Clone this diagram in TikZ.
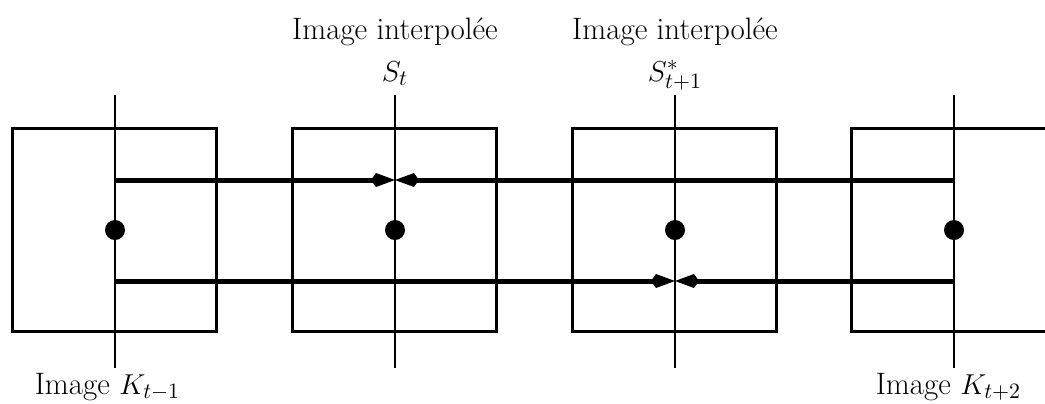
\documentclass[tikz,border=0pt]{standalone}
\usepackage{fontspec}
\newfontfamily\lmxvii{lmroman17-regular}[Extension=.otf]
\usetikzlibrary{arrows.meta}
\begin{document}
\begin{tikzpicture}[x=0.5pt,y=-0.5pt,
  frame/.style={draw,line width=1.5pt,minimum width=102pt,minimum height=101.5pt,inner sep=0pt},
  openframe/.style={line width=1.5pt},
  axis/.style={line width=0.7pt},
  dot/.style={circle,fill,inner sep=0pt,minimum size=10pt},
  flow/.style={line width=2.5pt,-{Kite[length=12pt,width=7pt,inset=2.5pt]}},
  lbl/.style={font=\fontsize{15.5}{18}\selectfont\lmxvii,inner sep=0pt}]
\useasboundingbox (0,0) rectangle (1045,403);
% frames
\node[frame] (f1) at (114,229.5) {};
\node[frame] (f2) at (394,229.5) {};
\node[frame] (f3) at (674,229.5) {};
\begin{scope}
\clip (0,0) rectangle (1045,403);
\coordinate (f4a) at (1100,128);
\coordinate (f4b) at (851,128);
\coordinate (f4c) at (851,331);
\coordinate (f4d) at (1100,331);
\draw[openframe] (f4a) -- (f4b) -- (f4c) -- (f4d);
\end{scope}
% vertical axes
\coordinate (t1) at (115,95); \coordinate (b1) at (115,368);
\coordinate (t2) at (395,95); \coordinate (b2) at (395,368);
\coordinate (t3) at (675,95); \coordinate (b3) at (675,368);
\coordinate (t4) at (954,95); \coordinate (b4) at (954,368);
\draw[axis] (t1) -- (b1);
\draw[axis] (t2) -- (b2);
\draw[axis] (t3) -- (b3);
\draw[axis] (t4) -- (b4);
% dots
\node[dot] (d1) at (115,230) {};
\node[dot] (d2) at (395,230) {};
\node[dot] (d3) at (675,230) {};
\node[dot] (d4) at (954,230) {};
% motion lines
\coordinate (u1) at (115,180); \coordinate (u2) at (395,180); \coordinate (u4) at (954,180);
\coordinate (l1) at (115,281); \coordinate (l3) at (675,281); \coordinate (l4) at (954,281);
\draw[flow] (u1) -- (u2);
\draw[flow] (u4) -- (u2);
\draw[flow] (l1) -- (l3);
\draw[flow] (l4) -- (l3);
% labels
\node[lbl,anchor=base] (s1) at (395,39.5) {Image interpolée};
\node[lbl,anchor=base] (s2) at (395,81) {$S_t$};
\node[lbl,anchor=base] (s3) at (675,39.5) {Image interpolée};
\node[lbl,anchor=base] (s4) at (675,81) {$S^*_{t+1}$};
\node[lbl,anchor=base] (k1) at (107.5,394.5) {Image $K_{t-1}$};
\node[lbl,anchor=base] (k2) at (948.5,394.5) {Image $K_{t+2}$};
\end{tikzpicture}
\end{document}
